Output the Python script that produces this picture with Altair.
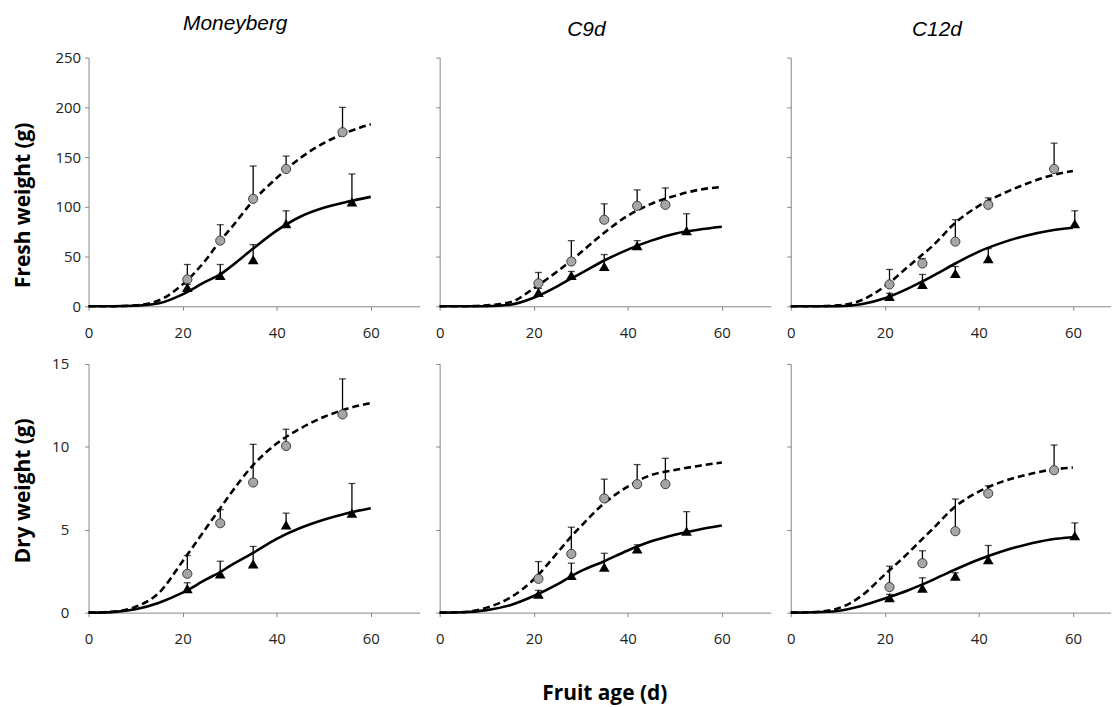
import altair as alt
import pandas as pd

FONT = "Open Sans"
TFONT = "Liberation Sans"
AX = "#868686"
LAB = "#222222"

# ---- fitted curves (read at these fruit ages) ----
fit_x = [0, 5, 10, 15, 20, 25, 28, 30, 35, 40, 45, 50, 55, 60]

fw_mb_dash = [0, 0, 1, 6, 22, 47, 66, 77, 106, 129, 149, 164, 175, 183]
fw_mb_solid = [0, 0, 0.5, 3, 12, 25, 32, 39, 58, 76, 90, 99, 105, 110]
fw_c9_dash = [0, 0, 1, 4, 18, 35, 46, 54, 74, 91, 103, 111, 117, 120]
fw_c9_solid = [0, 0, 0, 1.5, 8.5, 20, 28, 33, 46, 57, 66, 73, 77, 80]
fw_c12_dash = [0, 0, 1, 6, 20, 40, 52, 60, 84, 101, 113, 123, 131, 136]
fw_c12_solid = [0, 0, 0, 2, 8, 18, 25, 30, 43, 55, 64, 71, 76, 79]

dw_mb_dash = [0, 0.05, 0.35, 1.2, 3.1, 5.1, 6.3, 7.1, 8.9, 10.2, 11.1, 11.8, 12.3, 12.65]
dw_mb_solid = [0, 0.03, 0.2, 0.6, 1.2, 2.0, 2.45, 2.8, 3.6, 4.45, 5.1, 5.6, 6.0, 6.3]
dw_c9_dash = [0, 0.03, 0.3, 0.9, 2.0, 3.6, 4.6, 5.2, 6.6, 7.6, 8.3, 8.6, 8.85, 9.05]
dw_c9_solid = [0, 0.02, 0.15, 0.45, 1.0, 1.7, 2.2, 2.5, 3.1, 3.75, 4.3, 4.7, 5.0, 5.25]
dw_c12_dash = [0, 0.03, 0.25, 1.0, 2.3, 3.6, 4.45, 5.0, 6.4, 7.3, 7.9, 8.3, 8.6, 8.75]
dw_c12_solid = [0, 0.02, 0.1, 0.4, 0.85, 1.35, 1.7, 1.95, 2.6, 3.2, 3.7, 4.1, 4.4, 4.55]

# ---- observations: Moneyberg ----
mb_circ_x = [21, 28, 35, 42, 54]
mb_tri_x = [21, 28, 35, 42, 56]
fw_mb_circ = [27, 66, 108, 138, 175]
fw_mb_circ_err = [42, 82, 141, 151, 200]
fw_mb_tri = [19, 31, 47, 83, 105]
fw_mb_tri_err = [22, 42, 62, 96, 133]
dw_mb_circ = [2.34, 5.39, 7.85, 10.05, 11.96]
dw_mb_circ_err = [3.44, 6.21, 10.15, 11.06, 14.1]
dw_mb_tri = [1.44, 2.34, 2.94, 5.29, 6.0]
dw_mb_tri_err = [1.8, 3.1, 3.99, 6.0, 7.79]

# ---- observations: C9d ----
c9_circ_x = [21, 28, 35, 42, 48]
c9_tri_x = [21, 28, 35, 42, 52.5]
fw_c9_circ = [23, 45, 87, 101, 102]
fw_c9_circ_err = [34, 66, 103, 117, 119]
fw_c9_tri = [14, 31, 40, 61, 76]
fw_c9_tri_err = [18, 35, 52, 66, 93]
dw_c9_circ = [2.04, 3.54, 6.89, 7.75, 7.75]
dw_c9_circ_err = [3.08, 5.15, 8.05, 8.93, 9.31]
dw_c9_tri = [1.12, 2.24, 2.74, 3.85, 4.91]
dw_c9_tri_err = [1.34, 2.98, 3.58, 4.09, 6.09]

# ---- observations: C12d ----
c12_circ_x = [21, 28, 35, 42, 56]
c12_tri_x = [21, 28, 35, 42, 60.4]
fw_c12_circ = [22, 43, 65, 102, 138]
fw_c12_circ_err = [37, 48, 87, 109, 164]
fw_c12_tri = [10, 22, 33, 48, 83]
fw_c12_tri_err = [13, 32, 40, 58, 96]
dw_c12_circ = [1.54, 2.98, 4.91, 7.19, 8.59]
dw_c12_circ_err = [2.8, 3.73, 6.85, 7.65, 10.11]
dw_c12_tri = [0.9, 1.48, 2.2, 3.2, 4.65]
dw_c12_tri_err = [1.1, 2.1, 2.4, 4.05, 5.41]

col_titles = ["Moneyberg", "C9d", "C12d"]
row_titles = ["Fresh weight (g)", "Dry weight (g)"]
x_ticks = [0, 20, 40, 60]
fw_ticks = [0, 50, 100, 150, 200, 250]
dw_ticks = [0, 5, 10, 15]

PX_PER_DAY = 331 / 70.0


def panel(row, col, dash, solid, cx, cy, cerr, tx, ty, terr):
    width = 333 if col < 2 else 322
    xmax = width / PX_PER_DAY
    ticks = fw_ticks if row == 0 else dw_ticks
    ymax = ticks[-1]
    xs = alt.Scale(domain=[0, xmax], nice=False, zero=False)
    ys = alt.Scale(domain=[0, ymax], nice=False)

    xkw = dict(values=x_ticks, labelFlush=False, grid=False, domainColor=AX,
               tickColor=AX, tickSize=4, labelPadding=15, labelFontSize=15,
               labelColor=LAB, labelFont=FONT, domainWidth=1, tickWidth=1)
    if row == 1 and col == 1:
        xkw.update(title="Fruit age (d)", titleFont=FONT, titleFontSize=21,
                   titleFontWeight="bold", titleColor="black", titleY=70,
                   titleX=331 / 2.0)
    else:
        xkw.update(title=None)

    ykw = dict(values=ticks, labelFlush=False, grid=False, domainColor=AX,
               tickColor=AX, tickSize=4, labelPadding=4 if row == 0 else 16,
               labelFontSize=15, labelColor=LAB, labelFont=FONT,
               domainWidth=1, tickWidth=1, labels=(col == 0))
    if col == 0:
        ykw.update(title=row_titles[row], titleFont=FONT, titleFontSize=21,
                   titleFontWeight="bold", titleColor="black", titleX=-55,
                   titleY=148 if row == 0 else 127)
    else:
        ykw.update(title=None)

    xaxis = alt.Axis(**xkw)
    yaxis = alt.Axis(**ykw)

    df_d = pd.DataFrame({"x": fit_x, "y": dash})
    df_s = pd.DataFrame({"x": fit_x, "y": solid})
    df_c = pd.DataFrame({"x": cx, "y": cy, "err": cerr})
    df_t = pd.DataFrame({"x": tx, "y": ty, "err": terr})

    X = alt.X("x:Q", scale=xs, axis=xaxis)
    Y = alt.Y("y:Q", scale=ys, axis=yaxis)
    YE = alt.Y("err:Q", scale=ys, axis=yaxis)

    dashed = alt.Chart(df_d).mark_line(
        color="black", strokeWidth=2.6, strokeDash=[7, 4], interpolate="monotone"
    ).encode(x=X, y=Y)
    solid_l = alt.Chart(df_s).mark_line(
        color="black", strokeWidth=2.6, interpolate="monotone"
    ).encode(x=X, y=Y)

    layers = [dashed, solid_l]
    for df in (df_c, df_t):
        layers.append(alt.Chart(df).mark_rule(color="black", strokeWidth=1.3)
                      .encode(x=X, y=Y, y2="err:Q"))
        layers.append(alt.Chart(df).mark_tick(orient="horizontal", color="black",
                                              size=7, thickness=1.3)
                      .encode(x=X, y=YE))
    layers.append(alt.Chart(df_c).mark_point(
        shape="circle", filled=True, fill="#a6a6a6", stroke="#3c3c3c",
        strokeWidth=1, size=85, opacity=1).encode(x=X, y=Y))
    layers.append(alt.Chart(df_t).mark_point(
        shape="triangle-up", filled=True, color="black", size=115, opacity=1
    ).encode(x=X, y=Y))

    props = dict(width=width, height=250)
    if row == 0:
        props["title"] = alt.TitleParams(
            col_titles[col], font=TFONT, fontSize=21, fontStyle="italic",
            fontWeight="normal", color="black", anchor="middle", frame="group",
            dx=-19 if col < 2 else -14, offset=0, baseline="alphabetic")
    return alt.layer(*layers).properties(**props)


p = [
    panel(0, 0, fw_mb_dash, fw_mb_solid, mb_circ_x, fw_mb_circ, fw_mb_circ_err,
          mb_tri_x, fw_mb_tri, fw_mb_tri_err),
    panel(0, 1, fw_c9_dash, fw_c9_solid, c9_circ_x, fw_c9_circ, fw_c9_circ_err,
          c9_tri_x, fw_c9_tri, fw_c9_tri_err),
    panel(0, 2, fw_c12_dash, fw_c12_solid, c12_circ_x, fw_c12_circ, fw_c12_circ_err,
          c12_tri_x, fw_c12_tri, fw_c12_tri_err),
    panel(1, 0, dw_mb_dash, dw_mb_solid, mb_circ_x, dw_mb_circ, dw_mb_circ_err,
          mb_tri_x, dw_mb_tri, dw_mb_tri_err),
    panel(1, 1, dw_c9_dash, dw_c9_solid, c9_circ_x, dw_c9_circ, dw_c9_circ_err,
          c9_tri_x, dw_c9_tri, dw_c9_tri_err),
    panel(1, 2, dw_c12_dash, dw_c12_solid, c12_circ_x, dw_c12_circ, dw_c12_circ_err,
          c12_tri_x, dw_c12_tri, dw_c12_tri_err),
]

chart = alt.concat(*p, columns=3, spacing={"row": 58, "column": 20},
                   bounds="flush").properties(
    padding={"left": 4, "top": 3, "right": 0, "bottom": 0},
    background="white",
).configure_view(stroke=None)

chart.save("out.html", embed_options={"renderer": "svg", "actions": False})
